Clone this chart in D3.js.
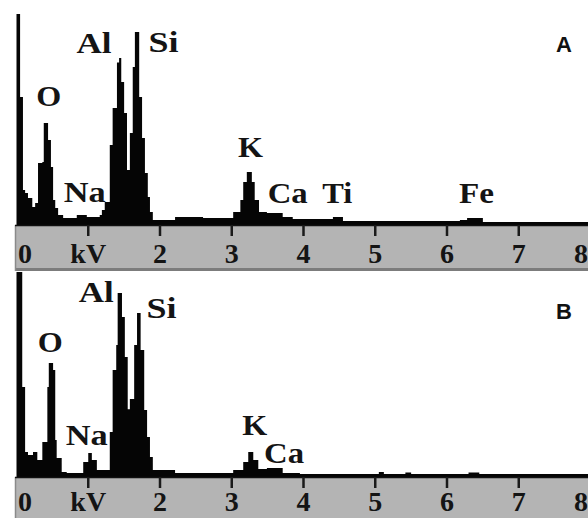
<!DOCTYPE html>
<html>
<head>
<meta charset="utf-8">
<script src="https://cdn.jsdelivr.net/npm/d3@7/dist/d3.min.js"></script>
<style>
  html, body { margin: 0; padding: 0; background: #fff; overflow: hidden; }
  svg { display: block; }
</style>
</head>
<body>
<svg id="chart" width="588" height="518"></svg>
<script>
// ---------- DATA ----------
// Spectrum A: bin start energies (kV) and counts (relative, 100 = full panel height)
const energyA = [0.00,0.05,0.09,0.12,0.16,0.22,0.26,0.30,0.36,0.38,0.44,0.48,0.51,0.54,0.58,0.65,0.84,0.98,1.16,1.19,1.23,1.30,1.34,1.40,1.43,1.46,1.50,1.54,1.58,1.62,1.65,1.71,1.75,1.79,1.83,1.86,1.90,2.21,2.60,3.02,3.12,3.16,3.21,3.28,3.32,3.38,3.49,3.71,3.85,4.41,4.55,6.18,6.28,6.50,8.00];
const countsA = [100,60.7,16.6,15.2,12.8,8.5,10.4,29.4,29.9,48.3,40.3,27.5,11.8,8.1,4.7,3.3,4.7,3.8,4.7,7.1,10.9,37.9,55.5,77.0,79.1,67.8,53.1,26.1,43.6,74.9,91.5,60.7,41.2,24.6,13.3,6.2,2.4,3.8,3.3,6.2,11.8,20.4,25.1,20.4,11.8,6.2,5.7,3.8,2.8,3.8,1.9,2.4,3.3,1.4,1.4];

// Spectrum B
const energyB = [0.00,0.08,0.12,0.16,0.23,0.29,0.36,0.43,0.45,0.51,0.54,0.56,0.63,0.70,0.93,1.00,1.05,1.12,1.30,1.34,1.39,1.41,1.47,1.51,1.55,1.58,1.64,1.68,1.73,1.78,1.82,1.86,1.90,2.21,3.02,3.16,3.23,3.30,3.37,3.49,3.71,3.95,5.05,5.12,5.42,5.50,6.30,6.45,8.00];
const countsB = [100,43.9,12.2,10.7,12.2,8.3,17.1,43.9,55.6,52.2,18.0,9.3,2.4,2.0,7.3,11.7,8.3,3.4,22.0,52.2,64.4,89.8,78.0,58.5,33.0,38.0,64.4,80.0,62.0,32.7,19.5,9.8,3.4,2.0,3.4,7.3,12.2,8.3,3.9,4.4,2.0,1.5,2.4,1.5,2.2,1.5,2.2,1.5,1.5];

// Axis ticks
const tickValues = [0,1,2,3,4,5,6,7,8];
const tickLabels = ["0","kV","2","3","4","5","6","7","8"];

// Element labels: name, anchor energy (kV), anchor count (label baseline)
const elementsA = ["O","Al","Si","Na","K","Ca","Ti","Fe"];
const labelKvA   = [0.45,1.08,2.05,0.95,3.26,3.78,4.47,6.41];
const labelCntA  = [56.4,81.5,82.0,10.9,32.2,10.4,10.4,10.4];

const elementsB = ["O","Al","Si","Na","K","Ca"];
const labelKvB   = [0.47,1.11,2.02,0.98,3.32,3.73];
const labelCntB  = [61.0,85.4,77.6,15.6,20.5,6.8];

const panelNames = ["A","B"];

// ---------- DRAWING ----------
const svg = d3.select("#chart");
const x = d3.scaleLinear().domain([0, 8]).range([16.5, 590.5]);

const labelWidth = {O:25, Al:35, Si:30, Na:42, K:25, Ca:40, Ti:30, Fe:35};

const panels = [
  {name: panelNames[0], energy: energyA, counts: countsA, els: elementsA, kv: labelKvA, cnt: labelCntA,
   top: 14, base: 225, barBottom: 271, letterY: 52, tickLabelDy: 38},
  {name: panelNames[1], energy: energyB, counts: countsB, els: elementsB, kv: labelKvB, cnt: labelCntB,
   top: 272, base: 477, barBottom: 530, letterY: 319, tickLabelDy: 34}
];

panels.forEach(p => {
  const y = d3.scaleLinear().domain([0, 100]).range([p.base, p.top]);
  const g = svg.append("g");

  // gray axis bar
  g.append("rect")
    .attr("x", 15).attr("y", p.base)
    .attr("width", 588 - 15).attr("height", p.barBottom - p.base)
    .attr("fill", "#b4b4b4");
  g.append("line")
    .attr("x1", 15).attr("x2", 588)
    .attr("y1", p.barBottom - 1.5).attr("y2", p.barBottom - 1.5)
    .attr("stroke", "#7c7c7c").attr("stroke-width", 3);
  g.append("line")
    .attr("x1", 15.5).attr("x2", 15.5)
    .attr("y1", p.base).attr("y2", p.barBottom)
    .attr("stroke", "#8a8a8a").attr("stroke-width", 1.5);

  // spectrum (histogram steps)
  const pts = p.energy.map((e, i) => [e, p.counts[i]]);
  const area = d3.area()
    .x(d => x(d[0]))
    .y0(y(0))
    .y1(d => y(d[1]))
    .curve(d3.curveStepAfter);
  g.append("path")
    .datum(pts)
    .attr("d", area)
    .attr("fill", "#050505");

  // baseline line on top of bar
  g.append("line")
    .attr("x1", 15).attr("x2", 588)
    .attr("y1", p.base + 0.5).attr("y2", p.base + 0.5)
    .attr("stroke", "#111").attr("stroke-width", 1.5);

  // ticks
  g.selectAll(".tick")
    .data(tickValues.filter(v => v > 0))
    .enter().append("line")
    .attr("x1", d => x(d)).attr("x2", d => x(d))
    .attr("y1", p.base).attr("y2", p.base + 11)
    .attr("stroke", "#1a1a1a").attr("stroke-width", 2.5);

  // tick labels
  g.selectAll(".tl")
    .data(tickValues)
    .enter().append("text")
    .attr("x", d => Math.max(25, Math.min(581, x(d))))
    .attr("y", p.base + p.tickLabelDy)
    .attr("text-anchor", "middle")
    .attr("font-family", "'Liberation Serif', 'Times New Roman', serif")
    .attr("font-weight", "bold")
    .attr("font-size", 28)
    .attr("fill", "#141414")
    .text((d, i) => tickLabels[i]);

  // element labels
  p.els.forEach((el, i) => {
    const w = labelWidth[el];
    g.append("text")
      .attr("x", x(p.kv[i]) - w / 2)
      .attr("y", y(p.cnt[i]))
      .attr("font-family", "'Liberation Serif', 'Times New Roman', serif")
      .attr("font-weight", "bold")
      .attr("font-size", 30)
      .attr("fill", "#141414")
      .attr("textLength", w)
      .attr("lengthAdjust", "spacingAndGlyphs")
      .text(el);
  });

  // panel letter
  g.append("text")
    .attr("x", 564).attr("y", p.letterY)
    .attr("text-anchor", "middle")
    .attr("font-family", "'Liberation Sans', Arial, sans-serif")
    .attr("font-weight", "bold")
    .attr("font-size", 22)
    .attr("fill", "#111")
    .text(p.name);
});
</script>
</body>
</html>
